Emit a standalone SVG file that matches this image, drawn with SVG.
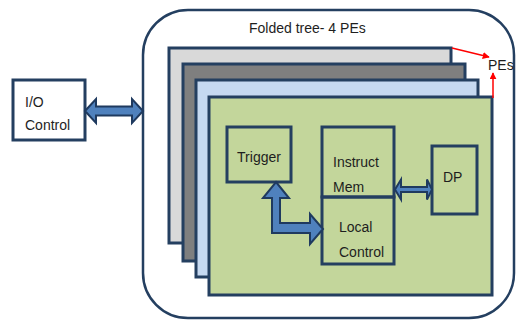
<svg xmlns="http://www.w3.org/2000/svg" width="518" height="322" viewBox="0 0 518 322">
<defs>
<style>
.box{stroke:#243f60;stroke-width:3;fill:none}
.layer{stroke:#243f60;stroke-width:3}
.arr{fill:#4f81bd;stroke:#1f3a5f;stroke-width:2;stroke-linejoin:miter}
.red{stroke:#ff0000;stroke-width:1.5;fill:none}
text{font-family:"Liberation Sans",Arial,sans-serif;font-size:14px;fill:#1e1e1e}
</style>
<marker id="rh" viewBox="0 0 10 10" refX="9" refY="5" markerWidth="7" markerHeight="7" orient="auto" markerUnits="userSpaceOnUse">
<path d="M0,0 L10,5 L0,10 z" fill="#ff0000"/>
</marker>
</defs>
<rect width="518" height="322" fill="#ffffff"/>
<g id="outer">
<rect x="143" y="10" width="371" height="308" rx="45" ry="45" fill="#ffffff" stroke="#243f60" stroke-width="2.5"/>
<text x="249" y="33" font-size="14.8">Folded tree- 4 PEs</text>
</g>
<g id="layer1"><rect class="layer" x="169" y="48" width="282" height="195" fill="#d9d9d9"/></g>
<g id="layer2"><rect class="layer" x="183" y="64" width="282" height="197" fill="#7f7f7f"/></g>
<g id="layer3"><rect class="layer" x="196" y="80" width="282" height="197" fill="#c6d9f1"/></g>
<g id="layer4"><rect class="layer" x="209" y="97" width="283" height="198" fill="#c3d69b"/></g>
<g id="io">
<rect x="13" y="80" width="72" height="60" fill="#ffffff" stroke="#243f60" stroke-width="3"/>
<text x="25" y="107">I/O</text>
<text x="25" y="130">Control</text>
</g>
<g id="trigger">
<rect class="box" x="227" y="127" width="64" height="55"/>
<text x="259" y="162" text-anchor="middle">Trigger</text>
</g>
<g id="instruct">
<rect class="box" x="322" y="127" width="72" height="70"/>
<text x="333" y="167">Instruct</text>
<text x="333" y="192">Mem</text>
</g>
<g id="local">
<rect class="box" x="322" y="197" width="72" height="67"/>
<text x="339" y="232">Local</text>
<text x="339" y="257">Control</text>
</g>
<g id="dp">
<rect class="box" x="432" y="146" width="45" height="68"/>
<text x="443" y="182">DP</text>
</g>
<g id="pes">
<text x="488" y="70" font-size="13">PEs</text>
</g>
<g id="connectors">
<polygon class="arr" points="85,111 96,99 96,106.5 132,106.5 132,99 143,111 132,123 132,115.5 96,115.5 96,123"/>
<polygon class="arr" points="395,189.5 401,179.5 401,187 427,187 427,179.5 432,189.5 427,199.5 427,192 401,192 401,199.5"/>
<polygon class="arr" points="276,182 289,198 280,198 280,223 310,223 310,214 323,229 310,244 310,233 272,233 272,198 263,198"/>
<line class="red" x1="452" y1="48" x2="489" y2="57" marker-end="url(#rh)"/>
<line class="red" x1="493" y1="98" x2="493" y2="73" marker-end="url(#rh)"/>
</g>
</svg>
